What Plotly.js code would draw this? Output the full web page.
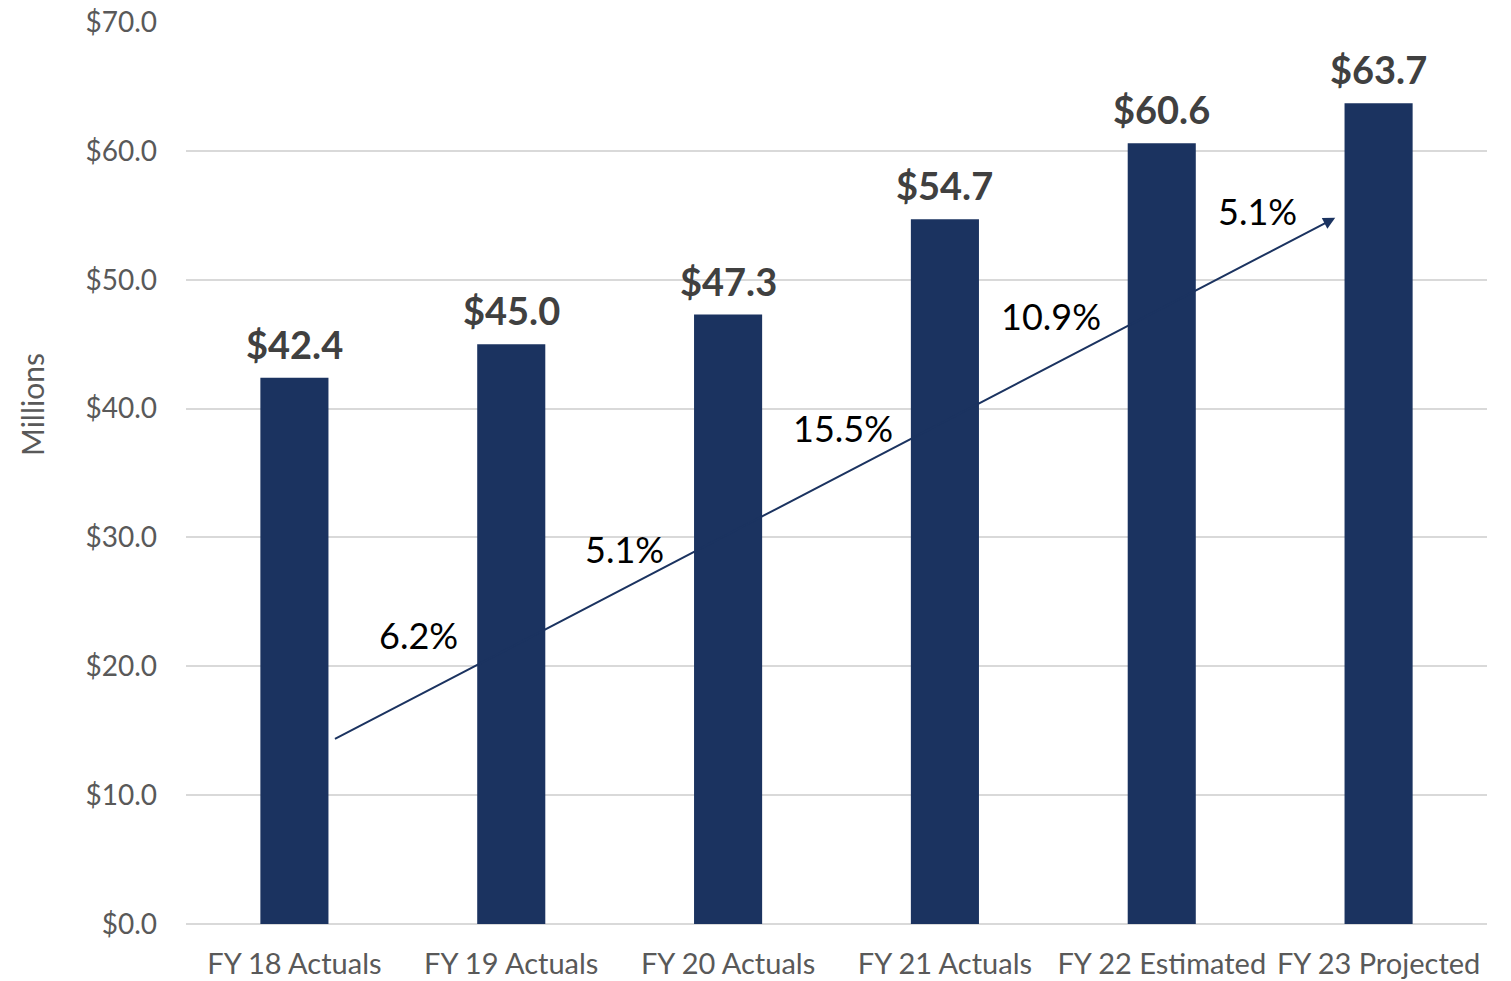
<!DOCTYPE html>
<html>
<head>
<meta charset="utf-8">
<script src="https://cdn.plot.ly/plotly-3.0.1.min.js"></script>
<style>html,body{margin:0;padding:0;background:#fff;}#chart{width:1511px;height:981px;}</style>
</head>
<body>
<div id="chart"></div>
<script>
// ---- data ----
const categories = ["FY 18 Actuals", "FY 19 Actuals", "FY 20 Actuals", "FY 21 Actuals", "FY 22 Estimated", "FY 23 Projected"];
const values = [42.4, 45.0, 47.3, 54.7, 60.6, 63.7];
const valueLabels = ["$42.4", "$45.0", "$47.3", "$54.7", "$60.6", "$63.7"];
const growthLabels = ["6.2%", "5.1%", "15.5%", "10.9%", "5.1%"];
const growthX = [0.57, 1.52, 2.53, 3.49, 4.44];
const growthY = [22.4, 29.1, 38.5, 47.2, 55.3];
const trendStart = [0.18, 14.3];
const trendEnd = [4.80, 54.8];
const tickVals = [0, 10, 20, 30, 40, 50, 60, 70];
const tickText = ["$0.0", "$10.0", "$20.0", "$30.0", "$40.0", "$50.0", "$60.0", "$70.0"];
const yAxisTitle = "Millions";

const FONT = "Lato, 'Noto Sans', sans-serif";
const BAR = "#1b3360";

const trace = {
  type: "bar",
  x: categories.map((c, i) => i),
  y: values,
  marker: { color: BAR, line: { width: 0 } },
  hoverinfo: "skip"
};

const annotations = [];
values.forEach((v, i) => {
  annotations.push({
    x: i, y: v, xref: "x", yref: "y",
    text: "<b>" + valueLabels[i] + "</b>",
    showarrow: false, yanchor: "bottom", yshift: 9,
    font: { family: FONT, size: 38, color: "#404040" }
  });
});
growthLabels.forEach((t, i) => {
  annotations.push({
    x: growthX[i], y: growthY[i], xref: "x", yref: "y",
    text: t, showarrow: false, xanchor: "center", yanchor: "middle",
    font: { family: FONT, size: 36, color: "#000000" }
  });
});
annotations.push({
  x: trendEnd[0], y: trendEnd[1], ax: trendStart[0], ay: trendStart[1],
  xref: "x", yref: "y", axref: "x", ayref: "y",
  text: "", showarrow: true, arrowhead: 2, arrowsize: 1.2, arrowwidth: 2,
  arrowcolor: BAR, standoff: 0
});
annotations.push({
  x: 32, y: 405, xref: "paper", yref: "paper",
  text: yAxisTitle, showarrow: false, textangle: -90,
  xanchor: "center", yanchor: "middle",
  font: { family: FONT, size: 30, color: "#595959" }
});

const layout = {
  width: 1511, height: 981,
  margin: { l: 186, r: 24, t: 22, b: 57 },
  paper_bgcolor: "#ffffff", plot_bgcolor: "#ffffff",
  showlegend: false,
  bargap: 0.686,
  font: { family: FONT, color: "#595959" },
  xaxis: {
    range: [-0.5, 5.5],
    tickmode: "array", tickvals: categories.map((c, i) => i), ticktext: categories,
    tickfont: { family: FONT, size: 29, color: "#595959" },
    showgrid: false, zeroline: false, showline: false, ticks: "",
    ticklen: 0, ticklabelstandoff: 20, automargin: false
  },
  yaxis: {
    range: [0, 70],
    tickmode: "array", tickvals: tickVals, ticktext: tickText,
    tickfont: { family: FONT, size: 28, color: "#595959" },
    showgrid: true, gridcolor: "#d9d9d9", gridwidth: 2,
    zeroline: true, zerolinecolor: "#d9d9d9", zerolinewidth: 2,
    showline: false, ticks: "", ticklabelstandoff: 28,
    automargin: false
  },
  annotations: annotations
};
// convert pixel-positioned title annotation to paper coords
const pw = layout.width - layout.margin.l - layout.margin.r;
const ph = layout.height - layout.margin.t - layout.margin.b;
const ta = annotations[annotations.length - 1];
ta.x = (ta.x - layout.margin.l) / pw;
ta.y = (layout.height - layout.margin.b - ta.y) / ph;

Plotly.newPlot("chart", [trace], layout, { displayModeBar: false, staticPlot: true });
</script>
</body>
</html>
